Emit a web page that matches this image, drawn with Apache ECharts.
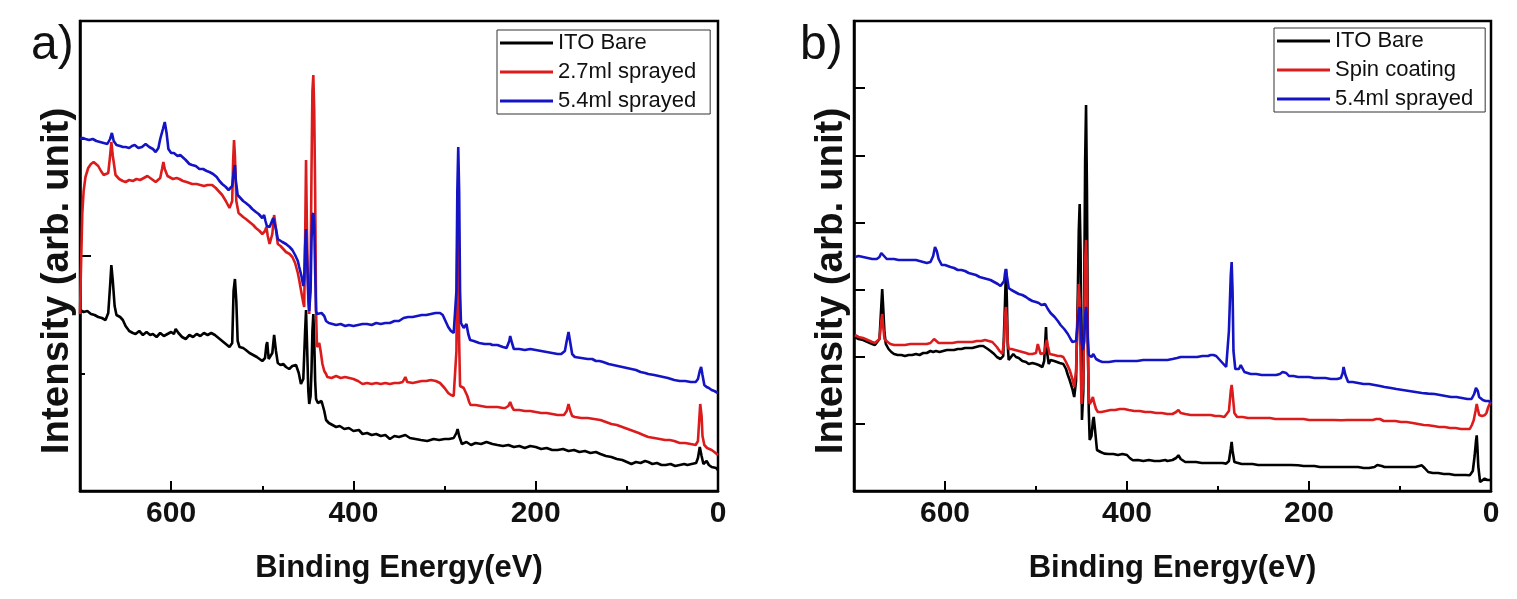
<!DOCTYPE html>
<html>
<head>
<meta charset="utf-8">
<script src="https://cdn.jsdelivr.net/npm/echarts@6/dist/echarts.min.js"></script>
<style>
html,body{margin:0;padding:0;background:#fff;}
#c{width:1517px;height:599px;}
</style>
</head>
<body>
<div id="c"></div>
<script>
// ---------- DATA (x = binding energy eV, y = intensity, arb. unit) ----------
const X_TICKS = [0, 200, 400, 600];
const LEGEND_A = ['ITO Bare', '2.7ml sprayed', '5.4ml sprayed'];
const LEGEND_B = ['ITO Bare', 'Spin coating', '5.4ml sprayed'];

const A_BLACK = [[700,181],[696,179],[692,180],[688,177],[684,176],[680,174],[676,173],[672,171],[669,178],[667,205],[665.6,226],[664,210],[662,185],[660,176],[656,174],[653,171],[650,165],[646,160],[642,158],[639,157],[635,160],[631,156],[627,159],[623,156],[620,157],[616,154],[612,158],[608,155],[604,157],[600,159],[597,157],[595,162],[592,158],[588,154],[584,152],[580,156],[576,154],[572,157],[568,155],[564,158],[560,156],[556,158],[552,156],[548,153],[544,150],[540,147],[536,144],[533,148],[531.5,200],[530,212],[528.5,190],[527,150],[525,144],[521,143],[518,141],[514,138],[510,136],[506,134],[503,132],[500,130],[497,133],[495.5,146],[494.6,149],[493,132],[491,130],[489,138],[487,156],[485,140],[483,128],[480,126],[477,127],[474,124],[470.5,122],[467,125],[463,126],[460,118],[457.6,107],[455,112],[453,160],[452,181],[451,150],[449.5,100],[448.5,87],[447,95],[446,120],[445,160],[444,177],[443,150],[442,110],[441,92],[439,88],[437,86],[435,90],[434,91],[432,80],[430,71],[427,68],[423,66],[419,64],[415,65],[410,62],[405,63],[400,60],[394,61],[390,57],[385,58],[380,56],[375,57],[370,55],[365,56],[360,52],[355,55],[350,54],[343,56],[338,53],[332,52],[326,51],[319,50],[312,52],[306,51],[300,52],[295,52],[290,53],[287,58],[285.7,62],[284,55],[281,47],[276,49],[271,46],[266,48],[260,47],[254,49],[247.5,47],[242,46],[236,45],[230,46],[224,44],[218,45],[212,43],[206,45],[200,44],[194,42],[188,43],[182,41],[176,41],[170,42],[164,40],[158,41],[152,39],[146,40],[140,38],[134,39],[129,37],[123,35],[117,34],[111,32],[105,31],[100,29],[95,27],[90,29],[85,28],[80,30],[76.5,29],[72,27],[67,28],[62,26],[57.5,26],[52,27],[47,25],[42,26],[37,27],[33.6,26],[29,27],[24,28],[22,33],[20,44],[18,35],[16,27],[14,29],[12.5,30],[10,26],[7,24],[5,22],[2,23],[0,21]];

const A_RED = [[700,177],[699,220],[697.5,277],[696,300],[694,314],[691,323],[688,327],[685,329],[683,329],[680,325],[677,320],[674,316],[672,314],[669,318],[667,335],[665.6,349],[664,335],[661,316],[657,312],[653,310],[650,309],[646,311],[642,310],[638,312],[634,311],[630,313],[626,315],[624,314],[620,311],[617,309],[612,313],[610,322],[608.5,329],[607,322],[604,315],[602,314],[598,312],[594,313],[591,312],[587,310],[583,309],[577,307],[572,307],[568,306],[564,305],[560,306],[555,306],[551,303],[548,300],[544,296],[540,290],[536,283],[533,290],[532,330],[531,351],[530,335],[528.5,290],[526,278],[525,277],[521,274],[518,272],[514,269],[510,266],[507,263],[503,260],[500,257],[497,260],[495.5,264],[494,255],[492,247],[489,257],[487,276],[485,262],[483,247],[480,245],[477,242],[474,239],[470,237],[467,234],[464,228],[461,218],[459.5,211],[457,198],[455,188],[454,184],[453,250],[452,331],[451,260],[449.5,190],[448.5,177],[447,220],[446,320],[445,400],[444,416],[443,380],[442,300],[441,180],[440,144],[438.5,142],[437.5,148],[436,140],[434,127],[432,120],[430,117],[428.7,114],[424,113],[419,115],[414,113],[409,114],[404.5,113],[400,112],[395,110],[390,107],[385,108],[380,107],[375,108],[370,107],[365,108],[360,107],[355,108],[350,108],[346,109],[343,114],[341,109],[335,108],[330,109],[325,110],[320,110],[315,111],[309.6,110],[305,108],[300,103],[296,98],[293,96],[290,95],[288,94],[287,140],[286,250],[285.7,284],[285,250],[284,150],[283,105],[281,104],[279,103],[277,101],[275,95],[273,89],[271.5,86],[266,86],[260,85],[254,84],[248,84],[242,84],[236,83],[233.5,83],[230,85],[228,89],[226,84],[224,81],[218,81],[212,80],[206,80],[200,79],[194,78],[188,78],[182,77],[176,76],[169,76],[166,80],[164,87],[162,80],[160,75],[157,74],[150,73],[143,73],[136,72],[129,71],[123,69],[117,67],[111,66],[105,64],[99,62],[93,60],[87,58],[82,56],[76.5,54],[70,53],[64,52],[58,51],[53,51],[48,50],[42,48],[36,48],[30,47],[24.5,46],[22,50],[21,65],[19.5,87],[18,75],[17,55],[15,46],[14,44],[12,43],[9.5,42],[7,41],[4,39],[2,38],[0,36]];

const A_BLUE = [[700,352],[697,353],[694,352],[690,351],[686,352],[682,350],[678,349],[674,348],[670,347],[667,352],[665,358],[663,350],[660,346],[656,345],[653,344],[650,344],[646,343],[643,345],[640,346],[636,343],[632,344],[628,347],[624,344],[620,342],[617,339],[614,343],[612,352],[609,362],[607,369],[605,358],[603,342],[600,338],[597,338],[593,335],[590,336],[588,334],[584,331],[580,327],[577,326],[573,325],[569,322],[565,322],[561,320],[558,319],[554,317],[550,314],[547,310],[544,307],[540,304],[537,301],[535,299],[533,305],[531.5,318],[530,326],[529,310],[527,296],[525,294],[521,290],[518,288],[514,285],[511,282],[507,279],[504,277],[500,273],[498,276],[496.5,270],[495,265],[492,264],[490,266],[488,273],[487,275],[485,262],[483,252],[481,251],[478,249],[474,247],[470,244],[467,241],[464,236],[461,230],[459.5,224],[457,215],[455,205],[454,212],[453,245],[452,262],[451,235],[449.5,195],[448.5,180],[447,200],[446,250],[445,275],[444,278],[443,265],[442,220],[441,180],[440,177],[438,175],[435,178],[434,180],[432,175],[430,170],[427,168],[423,167],[419,166],[414,167],[409,165],[405,166],[400,165],[395,166],[390,167],[385,167],[380,166],[375,168],[370,167],[365,168],[360,168],[355,170],[350,170],[345,173],[343,174],[340,174],[335,174],[330,175],[325,176],[320,176],[315,177],[310,178],[305,178],[302,176],[299,170],[296,164],[293,160],[290,158],[288,157],[287,200],[286,300],[285,344],[284,300],[283,200],[282,168],[281,166],[279,163],[277,165],[276,167],[274,157],[272,151],[268,150],[262,148],[256,147],[250,147],[247.5,146],[242,146],[236,144],[232,143],[229,150],[228,155],[226,148],[224,142],[218,142],[212,141],[206,142],[200,141],[194,140],[188,139],[182,138],[176,137],[172,137],[168,140],[166,150],[164,159],[162,148],[160,137],[157,134],[150,133],[143,132],[138,132],[134,130],[130,130],[126,129],[120,127],[115,126],[110,125],[105,124],[100,123],[95,122],[90,121],[85,119],[80,118],[76.5,117],[70,116],[65,115],[60,114],[55,113],[48,111],[42,110],[36,110],[30,109],[24.5,109],[22,112],[20,120],[18.5,124],[17,116],[15,106],[12.5,104],[10,103],[7,101],[4,100],[2,99],[0,98]];

const B_BLACK = [[699,154],[695,152],[690,151],[685,149],[680,147],[677,146],[675,146],[672,152],[670,185],[669,202],[668,185],[666.5,158],[665,147],[662,142],[659,139],[656,137],[652,136],[648,136],[644,135],[640,136],[636,136],[632,137],[628,136],[624,138],[620,138],[616,140],[613,139],[610,140],[606,139],[602,140],[598,141],[594,141],[590,141],[586,142],[582,142],[578,143],[574,143],[570,143],[566,144],[562,145],[558,145],[556,144],[553,142],[550,140],[546,137],[543,134],[539,132],[536,135],[534,190],[533,222],[532,190],[531,145],[530,131],[528,133],[525,137],[522,134],[519,133],[515,130],[511,129],[508,127],[504,128],[500,127],[497,126],[495,128],[493,124],[491,130],[489,164],[488,140],[486,127],[484,131],[480,130],[477,129],[474,128],[470,127],[467,122],[465,116],[463,111],[460,102],[458,94],[456,110],[454,200],[453,260],[452,287],[451,240],[450,120],[449.5,71],[448,100],[447,200],[446,330],[445,386],[444,300],[443,150],[442,80],[441,51],[439,55],[437.5,70],[436.6,74],[435,60],[433,41],[429,39],[425,37.4],[420,37],[415,37],[410,36],[405,37],[403,39],[400,36],[397,33],[393.6,30.7],[388,31],[382,30],[376,31],[370,30],[364,30],[358,31],[355.5,30],[350,31],[346,33],[343.5,35.7],[341,32],[336,29],[330,29],[324,29],[318,28],[312,28],[306,28],[300,28],[295,28],[291,27.4],[288,30],[286,42],[285,49],[284,40],[282,29],[280,27.4],[274,27],[268,27],[262,27],[256,26],[250,26],[244,26],[238,26],[232,26],[226,26],[220,26],[212,25.7],[206,25],[200,25],[194,25],[188,24],[182,24],[176,24],[170,24],[164.6,24],[158,24],[152,24],[146,24],[140,23],[134,23],[128,24],[125,26],[123,27.4],[120,25],[117,24],[110,24],[103,24],[96,24],[90,24],[83,24],[79,25],[76,25.7],[73,23],[69,19],[64,18],[58,18],[52,17],[46,17],[40,16],[34,16],[28,16],[23.3,15.7],[20,20],[18,35],[16.5,50],[15.7,55.7],[15,45],[14,25],[12,9],[10,10],[7,12.4],[4,11],[2,10.7],[0,11]];

const B_RED = [[699,156],[695,154],[690,153],[685,151],[680,149],[677,148],[675,147],[672,152],[670,170],[669,177],[668,165],[666.5,152],[663,149],[660,147],[656,146],[650,146],[644,146],[638,147],[632,147],[626,147],[620,147],[616,148],[614,150],[612,152],[610,150],[607,148],[603.6,148],[598,148],[592,148],[586,149],[580,149],[574,149],[570,149],[565,150],[560,150],[556,151],[552,150],[548,149],[546,148],[543,144],[540,140],[537,137],[535,150],[534,175],[533,184],[532,170],[531,148],[530,142],[527,142],[523,141],[519,140],[515,139],[511,138],[508,137],[504,137],[500,138],[498,147],[497,145],[495,137],[494,136],[491,138],[489,148],[488,151],[487,145],[485,137],[484,137],[480,136],[476,135],[473,135],[470,134],[467,129],[465,125],[463,121],[460,112],[458,104],[456,120],[454,180],[453,207],[452,190],[451,130],[450,87],[448,110],[447,170],[446,230],[445,251],[444,220],[443,140],[442,95],[441,87],[439,90],[437.5,94],[436,88],[434,82],[432,79],[428,79],[423,80],[418,81],[413,81],[408,82],[403,82],[398,81],[392,80],[386,80],[380,79],[374,79],[368,78],[362,78],[355.5,77],[350,77],[346,79],[343.5,81],[341,78],[336,77],[330,76],[324,76],[318,76],[312,76],[308,76],[303,75],[298,75],[293,74],[291,74],[288,80],[286,100],[285,106],[284,98],[282,78],[279,74],[273,74],[267,73],[261,73],[255,73],[249,73],[243,73],[237,72],[231,72],[225,72],[218,72],[212,72],[206,72],[200,71],[193,71],[186,71],[179,71],[172,71],[164.6,70.7],[158,71],[151,71],[144,71],[137,71],[130,71],[126,72],[124,73],[122,72],[118,70],[112,70],[105,70],[99,69],[93,69],[86,68],[80,67],[74,66],[69,65.7],[63,65],[57,64],[51,64],[45,63],[39,63],[33,62],[28,62],[23.3,62],[21,66],[19,70.7],[17,80],[15.7,87],[14.5,82],[13,76],[12,74],[10,75],[7,75.7],[5,78],[3,84],[1,88],[0,89]];

const B_BLUE = [[699,234],[695,235],[690,234],[685,233],[680,232],[675,232],[672,234],[670,238],[669,239],[667,235],[664,232],[661,232],[656,232],[651,231],[646,231],[641,231],[636,231],[632,231],[628,230],[624,229],[620,228],[616,229],[613,235],[611,244],[609,240],[607,232],[603.6,226],[600,226],[597,225],[594,224],[590,223],[586,221],[582,221],[578,220],[574,218],[570,217],[566,216],[562,214],[558,213],[554,212],[550,211],[546,209],[542,207],[539,205],[537,204],[535,210],[534,218],[533,222],[532,215],[530,203],[527,201],[523,199],[519,197],[515,196],[511,194],[508,192],[504,190],[500,189],[497,188],[495,186],[494,186],[492,185],[490,187],[489,187],[487,182],[484,178],[479.5,174],[476,170],[473,166],[469,162],[465,157],[462,152],[460,149],[458,147],[456,150],[454,170],[453,180],[452,184],[451,170],[450,150],[448.5,141],[447,150],[446,175],[445,184],[444,175],[443,150],[442,136],[441,135],[439,134],[437,137],[436,136],[434,132],[430,130],[427,129],[420,129],[413,130],[406,130],[403,130],[396,130],[389,130],[382,131],[375,131],[368,131],[361,131],[355.5,131],[350,132],[345,133],[341,134],[335,134],[329,134],[323,134],[317,135],[311,135],[308,136],[305,136],[302,135],[300,133],[298,131],[295,128],[293,126],[291,124],[289,125],[288,160],[286,215],[285,229],[284,200],[283,140],[281,122],[280,121],[277,122],[275,126],[274,127],[273,124],[271,119],[269.6,117],[264,117],[258,117],[252,116],[246,116],[240,116],[236,116],[232,117],[229,119],[227,121],[225,118],[222,115],[217,115],[212,114],[206,114],[200,114],[194,113],[188,113],[182,113],[176,112],[169,112],[165,113],[163,118],[162,124],[160,116],[157,109],[152,109],[146,108],[140,107],[134,107],[128,106],[122,105],[117,104],[110,103],[104,102],[97,101],[90,100],[83,99],[76,98],[69,97.4],[62,97],[56,96],[50,95],[44,94],[38,94],[32,93],[26,92],[21.4,92],[18.5,97],[16.5,103],[15.7,104],[14.5,100],[13,94],[12,92],[9,91],[6,90],[3,90],[0,89]];

// ---------- CHART ----------
const FONT = '"Liberation Sans", Arial, sans-serif';
const COLORS = {black: '#000000', red: '#dc1c1c', blue: '#1414c4'};
const chart = echarts.init(document.getElementById('c'), null, {renderer: 'canvas'});

function xMajor(grid) {
  return {
    type: 'value', gridIndex: grid, min: 0, max: 700, interval: 200, inverse: true, position: 'bottom',
    axisLine: {show: true, onZero: false, lineStyle: {color: '#000', width: 2.5}},
    axisTick: {show: true, inside: true, length: 10, lineStyle: {color: '#000', width: 2}},
    axisLabel: {show: true, margin: 8, fontSize: 30, fontWeight: 'bold', fontFamily: FONT, color: '#111',
      formatter: v => (X_TICKS.indexOf(v) >= 0 ? String(v) : '')},
    splitLine: {show: false},
    name: 'Binding Energy(eV)', nameLocation: 'middle', nameGap: 62,
    nameTextStyle: {fontSize: 31, fontWeight: 'bold', fontFamily: FONT, color: '#111'}
  };
}
function xMinor(grid) {
  return {
    type: 'value', gridIndex: grid, min: 0, max: 700, interval: 100, inverse: true, position: 'bottom',
    axisLine: {show: false, onZero: false}, axisLabel: {show: false}, splitLine: {show: false},
    axisTick: {show: true, inside: true, length: 5, lineStyle: {color: '#000', width: 2}}
  };
}
function yAxisDef(grid, interval, minor) {
  const ax = {
    type: 'value', gridIndex: grid, min: 0, max: 470, interval, position: 'left',
    axisLine: {show: true, onZero: false, lineStyle: {color: '#000', width: 2.5}},
    axisTick: {show: true, inside: true, length: 11, lineStyle: {color: '#000', width: 2}},
    axisLabel: {show: false}, splitLine: {show: false}, minorSplitLine: {show: false}
  };
  if (minor) ax.minorTick = {show: true, splitNumber: 2, length: 5, lineStyle: {color: '#000', width: 2}};
  return ax;
}
function line(name, data, color, xi, yi) {
  return {
    name, type: 'line', data, xAxisIndex: xi, yAxisIndex: yi, showSymbol: false, symbol: 'none',
    color, lineStyle: {color, width: 2.6}, animation: false, z: 2
  };
}
function legend(data, left, top, padding) {
  return {
    data, orient: 'vertical', left, top, padding, itemGap: 5, itemWidth: 53, itemHeight: 3,
    icon: 'rect', borderColor: '#333', borderWidth: 1, backgroundColor: '#fff', selectedMode: false,
    textStyle: {fontSize: 22, fontFamily: FONT, color: '#111', lineHeight: 24}
  };
}

const option = {
  backgroundColor: '#fff',
  animation: false,
  grid: [
    {left: 80, top: 21, width: 638, height: 470, show: true, borderColor: '#000', borderWidth: 2.5, containLabel: false},
    {left: 854, top: 21, width: 637, height: 470, show: true, borderColor: '#000', borderWidth: 2.5, containLabel: false}
  ],
  xAxis: [xMajor(0), xMinor(0), xMajor(1), xMinor(1)],
  yAxis: [yAxisDef(0, 235, true), yAxisDef(1, 470 / 7, false)],
  legend: [
    legend(LEGEND_A, 497, 30, [1, 14, 1, 3]),
    legend(LEGEND_B, 1274, 28, [1, 12, 1, 3])
  ],
  graphic: [
    {type: 'text', left: 31, top: 22, style: {text: 'a)', font: '48px ' + FONT, fill: '#111'}},
    {type: 'text', left: 800, top: 22, style: {text: 'b)', font: '48px ' + FONT, fill: '#111'}},
    {type: 'text', x: 57, y: 281, rotation: Math.PI / 2,
      style: {text: 'Intensity (arb. unit)', font: 'bold 38.5px ' + FONT, fill: '#111', textAlign: 'center', textVerticalAlign: 'middle'}},
    {type: 'text', x: 831, y: 281, rotation: Math.PI / 2,
      style: {text: 'Intensity (arb. unit)', font: 'bold 38.5px ' + FONT, fill: '#111', textAlign: 'center', textVerticalAlign: 'middle'}}
  ],
  series: [
    line(LEGEND_A[0], A_BLACK, COLORS.black, 0, 0),
    line(LEGEND_A[1], A_RED, COLORS.red, 0, 0),
    line(LEGEND_A[2], A_BLUE, COLORS.blue, 0, 0),
    line(LEGEND_B[0], B_BLACK, COLORS.black, 2, 1),
    line(LEGEND_B[1], B_RED, COLORS.red, 2, 1),
    line(LEGEND_B[2], B_BLUE, COLORS.blue, 2, 1)
  ]
};
chart.setOption(option);
</script>
</body>
</html>
